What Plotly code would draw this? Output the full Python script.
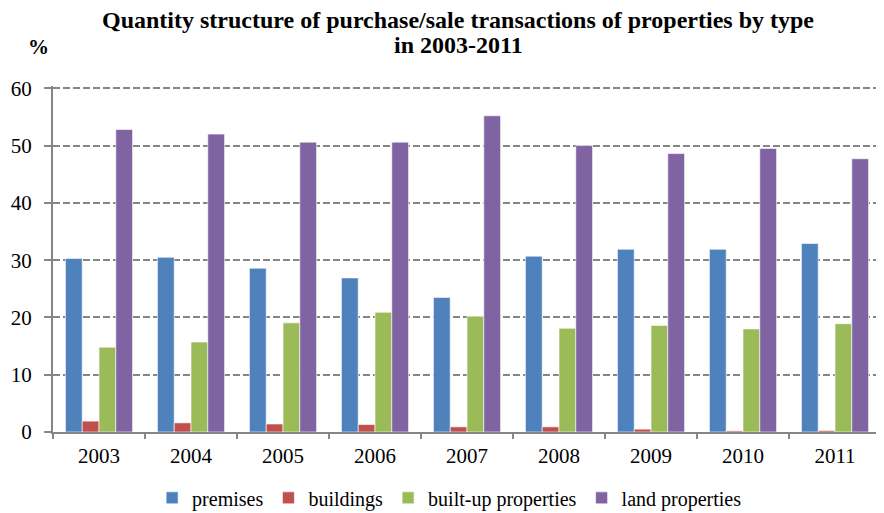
import plotly.graph_objects as go

years = ["2003", "2004", "2005", "2006", "2007", "2008", "2009", "2010", "2011"]
premises = [30.3, 30.5, 28.6, 26.9, 23.5, 30.7, 31.9, 31.9, 32.9]
buildings = [1.9, 1.6, 1.4, 1.3, 0.9, 0.9, 0.5, 0.2, 0.25]
built_up = [14.8, 15.7, 19.05, 20.9, 20.2, 18.1, 18.6, 18.0, 18.9]
land = [52.8, 52.0, 50.6, 50.6, 55.2, 50.0, 48.6, 49.5, 47.7]

series_names = ["premises", "buildings", "built-up properties", "land properties"]
colors = ["#4F81BD", "#C0504D", "#9BBB59", "#8064A2"]
FF = "'Times New Roman', 'Liberation Serif', Tinos, 'DejaVu Serif', serif"

fig = go.Figure()
for name, vals, col in zip(series_names, [premises, buildings, built_up, land], colors):
    fig.add_trace(go.Bar(
        x=years, y=vals, name=name,
        marker=dict(color=col, line=dict(color="rgba(255,255,255,0.6)", width=1)),
    ))

# page is offset by 8px body margin: figure is 876x505
fig.update_layout(
    width=876, height=505,
    paper_bgcolor="white", plot_bgcolor="white",
    barmode="group", bargap=0.27, bargroupgap=0,
    margin=dict(l=42, r=3, t=78, b=81),
    font=dict(family=FF, size=20, color="black"),
    legend=dict(
        orientation="h", x=0.479, xanchor="center",
        yref="container", y=0.03, yanchor="middle",
        font=dict(family=FF, size=20, color="black"),
        traceorder="normal", itemwidth=30,
    ),
    showlegend=True,
)

fig.add_annotation(
    text="<b>Quantity structure of purchase/sale transactions of properties by type</b>",
    xref="paper", yref="paper", x=0.4894, y=1.191, xanchor="center", yanchor="middle",
    showarrow=False, font=dict(family=FF, size=24, color="black"),
)
fig.add_annotation(
    text="<b>in 2003-2011</b>",
    xref="paper", yref="paper", x=0.4894, y=1.118, xanchor="center", yanchor="middle",
    showarrow=False, font=dict(family=FF, size=24, color="black"),
)
fig.add_annotation(
    text="<b>%</b>",
    xref="paper", yref="paper", x=-0.017, y=1.113, xanchor="center", yanchor="middle",
    showarrow=False, font=dict(family=FF, size=21, color="black"),
)

fig.update_xaxes(
    type="category", showline=True, linecolor="#868686", linewidth=2,
    ticks="outside", tickson="boundaries", ticklen=5, tickcolor="#868686", tickwidth=1.5,
    ticklabelstandoff=4,
    showgrid=False, tickfont=dict(family=FF, size=21, color="black"),
)
fig.update_yaxes(
    range=[0, 60.4], tickvals=[0, 10, 20, 30, 40, 50, 60], showline=True, linecolor="#868686", linewidth=2,
    ticks="outside", ticklen=7, tickcolor="#868686", tickwidth=1.5,
    ticklabelstandoff=8,
    showgrid=True, gridcolor="#868686", griddash="7px,3px", gridwidth=1.5,
    zeroline=False, tickfont=dict(family=FF, size=21, color="black"),
)

fig.write_html("out.html")
